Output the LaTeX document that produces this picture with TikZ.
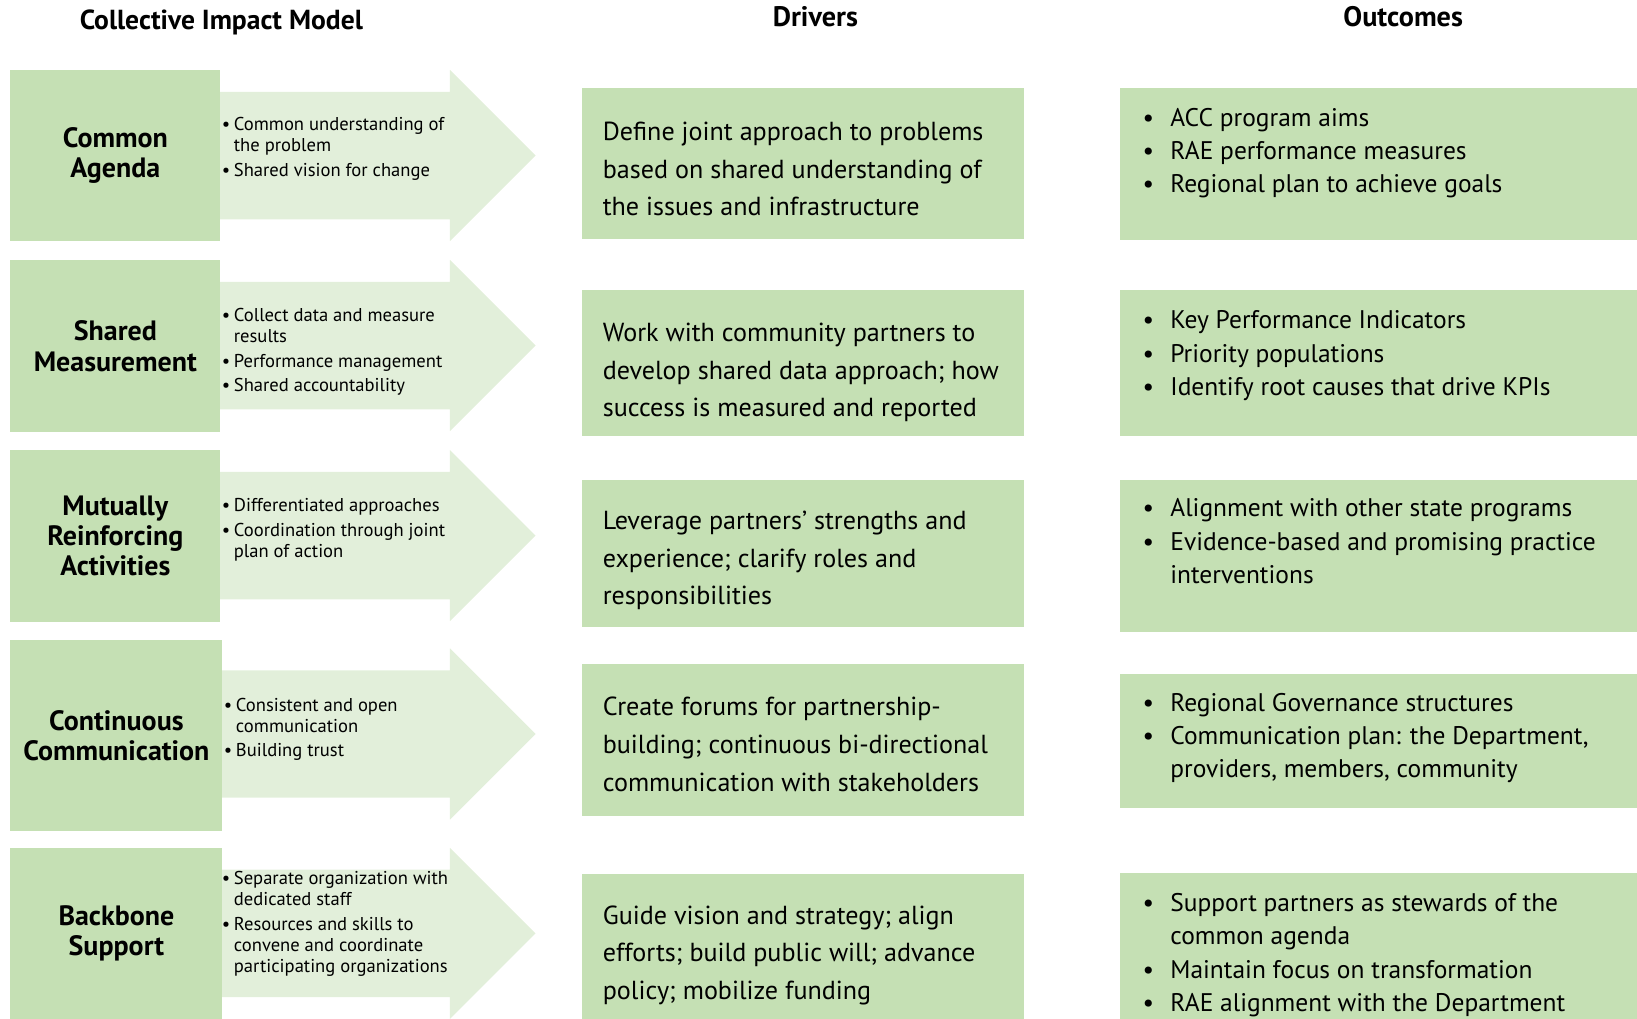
\documentclass[tikz,border=0pt]{standalone}
\usepackage{fontspec}
\setmainfont{PT Sans}
\usetikzlibrary{calc}
\definecolor{boxgreen}{HTML}{C5E0B4}
\definecolor{arrowgreen}{HTML}{E2EFDA}
\tikzset{
  model/.style={fill=boxgreen, inner sep=0pt, align=center,
    font=\fontsize{13.4}{14.5}\selectfont\bfseries},
  panel/.style={fill=boxgreen, inner sep=0pt},
  head/.style={inner sep=0pt, font=\fontsize{13.5}{15}\selectfont\bfseries},
  drivertext/.style={anchor=west, inner sep=0pt, align=left,
    font=\fontsize{12.5}{18}\selectfont},
  outtext/.style={anchor=west, inner sep=0pt,
    font=\fontsize{12.2}{15.9}\selectfont},
  arrowtext/.style={anchor=west, inner sep=0pt,
    font=\fontsize{8.9}{10.2}\selectfont}
}
\newcommand{\smallitems}[1]{\begin{tabular}{@{}l@{\hspace{1.8pt}}l@{}}#1\end{tabular}}
\newcommand{\bigitems}[1]{\begin{tabular}{@{}l@{\hspace{7.8pt}}l@{}}#1\end{tabular}}

\begin{document}
\begin{tikzpicture}[x=0.5pt,y=-0.5pt]
\useasboundingbox (0,0) rectangle (1568,976);
\clip (0,0) rectangle (1568,976);

\node[head, font=\fontsize{13.2}{15}\selectfont\bfseries] (title) at (212,21) {Collective Impact Model};
\node[head] (drivers) at (781,16) {Drivers};
\node[head] (outcomes) at (1344,16) {Outcomes};

\foreach \t in {67,249,431,621,812}{
  \fill[arrowgreen] (205,\t+21) -- (431,\t+21) -- (431,\t) -- (513,\t+82)
    -- (431,\t+164) -- (431,\t+143) -- (205,\t+143) -- cycle;
}

\node[model, minimum width=100.5pt, minimum height=82pt] (agenda) at (110.5,149) {Common\\Agenda};
\node[model, minimum width=100.5pt, minimum height=82.5pt] (measure) at (110.5,331.5) {Shared\\Measurement};
\node[model, minimum width=100.5pt, minimum height=82.5pt] (activities) at (110.5,513.5) {Mutually\\Reinforcing\\Activities};
\node[model, minimum width=101.5pt, minimum height=91.5pt] (communication) at (111.5,704.5) {Continuous\\Communication};
\node[model, minimum width=101.5pt, minimum height=82pt] (backbone) at (111.5,894) {Backbone\\Support};

\node[arrowtext] (agendaitems) at (212,143) {\smallitems{%
  \textbullet & Common understanding of\\ & the problem\\[1.5pt]
  \textbullet & Shared vision for change}};
\node[arrowtext] (measureitems) at (212,337.5) {\smallitems{%
  \textbullet & Collect data and measure\\ & results\\[1.5pt]
  \textbullet & Performance management\\[1.5pt]
  \textbullet & Shared accountability}};
\node[arrowtext] (activitiesitems) at (212,508) {\smallitems{%
  \textbullet & Differentiated approaches\\[1.5pt]
  \textbullet & Coordination through joint\\ & plan of action}};
\node[arrowtext] (communicationitems) at (214,699) {\smallitems{%
  \textbullet & Consistent and open\\ & communication\\[1.5pt]
  \textbullet & Building trust}};
\node[arrowtext] (backboneitems) at (212,885.5) {\smallitems{%
  \textbullet & Separate organization with\\ & dedicated staff\\[1.5pt]
  \textbullet & Resources and skills to\\ & convene and coordinate\\ & participating organizations}};

\node[panel, minimum width=212pt, minimum height=72.5pt] (d1) at (769,156.5) {};
\node[panel, minimum width=212pt, minimum height=70pt] (d2) at (769,348) {};
\node[panel, minimum width=212pt, minimum height=70.5pt] (d3) at (769,530.5) {};
\node[panel, minimum width=212pt, minimum height=73pt] (d4) at (769,709) {};
\node[panel, minimum width=212pt, minimum height=72.5pt] (d5) at (769,909.5) {};

\node[drivertext] (d1text) at (577,162) {Define joint approach to problems\\based on shared understanding of\\the issues and infrastructure};
\node[drivertext] (d2text) at (577,357) {Work with community partners to\\develop shared data approach; how\\success is measured and reported};
\node[drivertext] (d3text) at (577,537) {Leverage partners’ strengths and\\experience; clarify roles and\\responsibilities};
\node[drivertext] (d4text) at (577,713) {Create forums for partnership-\\building; continuous bi-directional\\communication with stakeholders};
\node[drivertext] (d5text) at (577,915) {Guide vision and strategy; align\\efforts; build public will; advance\\policy; mobilize funding};

\node[panel, minimum width=253.5pt, minimum height=73pt] (o1) at (1326.5,157) {};
\node[panel, minimum width=253.5pt, minimum height=70pt] (o2) at (1326.5,348) {};
\node[panel, minimum width=253.5pt, minimum height=72.5pt] (o3) at (1326.5,532.5) {};
\node[panel, minimum width=253.5pt, minimum height=64pt] (o4) at (1326.5,710) {};
\node[panel, minimum width=253.5pt, minimum height=76.5pt] (o5) at (1326.5,913) {};

\node[outtext] (o1text) at (1094,146.5) {\bigitems{%
  \textbullet & ACC program aims\\
  \textbullet & RAE performance measures\\
  \textbullet & Regional plan to achieve goals}};
\node[outtext] (o2text) at (1094,340.5) {\bigitems{%
  \textbullet & Key Performance Indicators\\
  \textbullet & Priority populations\\
  \textbullet & Identify root causes that drive KPIs}};
\node[outtext] (o3text) at (1094,520.5) {\bigitems{%
  \textbullet & Alignment with other state programs\\
  \textbullet & Evidence-based and promising practice\\
   & interventions}};
\node[outtext] (o4text) at (1094,707) {\bigitems{%
  \textbullet & Regional Governance structures\\
  \textbullet & Communication plan: the Department,\\
   & providers, members, community}};
\node[outtext] (o5text) at (1094,914.5) {\bigitems{%
  \textbullet & Support partners as stewards of the\\
   & common agenda\\
  \textbullet & Maintain focus on transformation\\
  \textbullet & RAE alignment with the Department}};
\end{tikzpicture}
\end{document}
